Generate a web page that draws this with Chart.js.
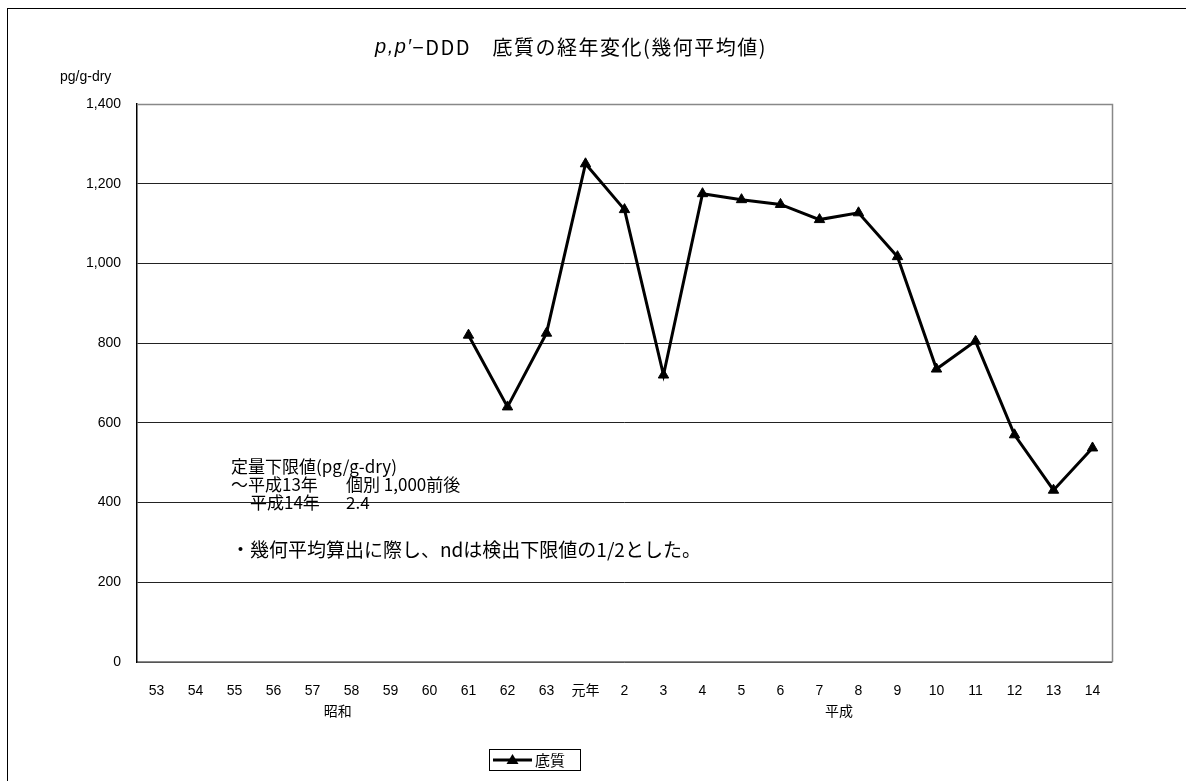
<!DOCTYPE html>
<html>
<head>
<meta charset="utf-8">
<script src="https://cdn.jsdelivr.net/npm/chart.js@4.4.1/dist/chart.umd.min.js"></script>
<style>
  html, body { margin: 0; padding: 0; background: #fff; }
  #wrap { position: relative; width: 1186px; height: 781px; }
</style>
</head>
<body>
<div id="wrap"><canvas id="c" width="1186" height="781"></canvas></div>
<script>
// Survey years (Showa 53 … Heisei 14)
const categories = ['53','54','55','56','57','58','59','60','61','62','63','元年','2','3','4','5','6','7','8','9','10','11','12','13','14'];
// Sediment p,p'-DDD geometric mean (pg/g-dry); no survey before Showa 61
const sediment = [null,null,null,null,null,null,null,null,820,640,825,1250,1135,720,1175,1160,1148,1110,1127,1017,735,805,570,431,537];
const yTicks = [0,200,400,600,800,1000,1200,1400];
const eraLabels = [{text:'昭和', at:4.65},{text:'平成', at:17.5}];
// note text pieces: left x, middle y, font size
const noteSegments = [
  {text:'定量下限値(pg/g-dry)', x:231, y:467, size:17},
  {text:'～平成13年', x:231, y:485, size:17},
  {text:'個別 1,000前後', x:346, y:485, size:17},
  {text:'平成14年', x:250, y:503, size:17},
  {text:'2.4', x:346, y:503, size:17},
  {text:'・幾何平均算出に際し、ndは検出下限値の1/2とした。', x:231, y:550, size:19}
];

const FONT = '"Liberation Sans", "Noto Sans CJK JP", sans-serif';
const JP = '"Noto Sans CJK JP", "Liberation Sans", sans-serif';

const decor = {
  id: 'decor',
  afterDraw(chart) {
    const ctx = chart.ctx;
    const area = chart.chartArea;
    const xs = chart.scales.x;
    ctx.save();
    // outer frame (runs off the right and bottom edges)
    ctx.strokeStyle = '#000';
    ctx.lineWidth = 1;
    ctx.strokeRect(7.5, 8.5, 1300, 900);
    // plot top and right edges
    ctx.strokeStyle = '#888';
    ctx.lineWidth = 1.5;
    ctx.beginPath();
    ctx.moveTo(area.left, Math.round(area.top) + 0.5);
    ctx.lineTo(Math.round(area.right) + 0.5, Math.round(area.top) + 0.5);
    ctx.lineTo(Math.round(area.right) + 0.5, area.bottom);
    ctx.stroke();

    // title with italic p,p′
    ctx.fillStyle = '#000';
    ctx.textBaseline = 'middle';
    ctx.letterSpacing = '1.5px';
    const parts = [
      {t: 'p,p′', f: 'italic 20px ' + FONT},
      {t: '−DDD　底質の経年変化(幾何平均値)', f: '20px ' + JP}
    ];
    let total = 0;
    parts.forEach(p => { ctx.font = p.f; p.w = ctx.measureText(p.t).width; total += p.w; });
    let x = 571 - total / 2;
    ctx.textAlign = 'left';
    parts.forEach(p => { ctx.font = p.f; ctx.fillText(p.t, x, 47); x += p.w; });
    ctx.letterSpacing = '0px';

    // y unit
    ctx.font = '14px ' + FONT;
    ctx.fillText('pg/g-dry', 60, 77);

    // era labels under the category axis
    ctx.font = '14px ' + JP;
    ctx.textAlign = 'center';
    const step = xs.getPixelForValue(1) - xs.getPixelForValue(0);
    eraLabels.forEach(e => {
      const i = Math.floor(e.at);
      const px = xs.getPixelForValue(i) + (e.at - i) * step;
      ctx.fillText(e.text, px, 711);
    });

    // notes
    ctx.textAlign = 'left';
    noteSegments.forEach(s => {
      ctx.font = s.size + 'px ' + JP;
      ctx.fillText(s.text, s.x, s.y);
    });

    // legend
    ctx.strokeStyle = '#000';
    ctx.lineWidth = 1;
    ctx.strokeRect(489.5, 749.5, 91, 21);
    ctx.lineWidth = 3;
    ctx.beginPath();
    ctx.moveTo(493, 760);
    ctx.lineTo(532, 760);
    ctx.stroke();
    ctx.beginPath();
    ctx.moveTo(512.5, 754);
    ctx.lineTo(518.5, 764);
    ctx.lineTo(506.5, 764);
    ctx.closePath();
    ctx.fill();
    ctx.font = '15px ' + JP;
    ctx.fillText('底質', 535, 760);
    ctx.restore();
  }
};

new Chart(document.getElementById('c'), {
  type: 'line',
  data: {
    labels: categories,
    datasets: [{
      label: '底質',
      data: sediment,
      borderColor: '#000',
      backgroundColor: '#000',
      borderWidth: 3,
      pointStyle: 'triangle',
      pointRadius: 6,
      pointHoverRadius: 6,
      pointBackgroundColor: '#000',
      pointBorderColor: '#000',
      pointBorderWidth: 1,
      tension: 0,
      spanGaps: false
    }]
  },
  options: {
    responsive: false,
    animation: false,
    events: [],
    layout: { padding: { left: 0, right: 74, top: 104, bottom: 0 } },
    plugins: { legend: { display: false }, title: { display: false }, tooltip: { enabled: false } },
    scales: {
      x: {
        offset: true,
        grid: { display: false },
        border: { display: true, color: '#888', width: 1.5 },
        ticks: { color: '#000', font: { family: FONT, size: 14 }, padding: 13, maxRotation: 0, autoSkip: false },
        afterFit(s) { s.height = 119; }
      },
      y: {
        min: 0, max: 1400,
        afterBuildTicks(s) { s.ticks = yTicks.map(v => ({value: v})); },
        grid: { color: ctx => (ctx.tick && ctx.tick.value === 1400) ? 'rgba(0,0,0,0)' : '#222', lineWidth: 1, drawTicks: false },
        border: { display: true, color: '#000', width: 1.5 },
        ticks: { color: '#000', font: { family: FONT, size: 14 }, padding: 16,
          callback: v => v.toLocaleString('en-US') },
        afterFit(s) { s.width = 137; }
      }
    }
  },
  plugins: [decor]
});
</script>
</body>
</html>
